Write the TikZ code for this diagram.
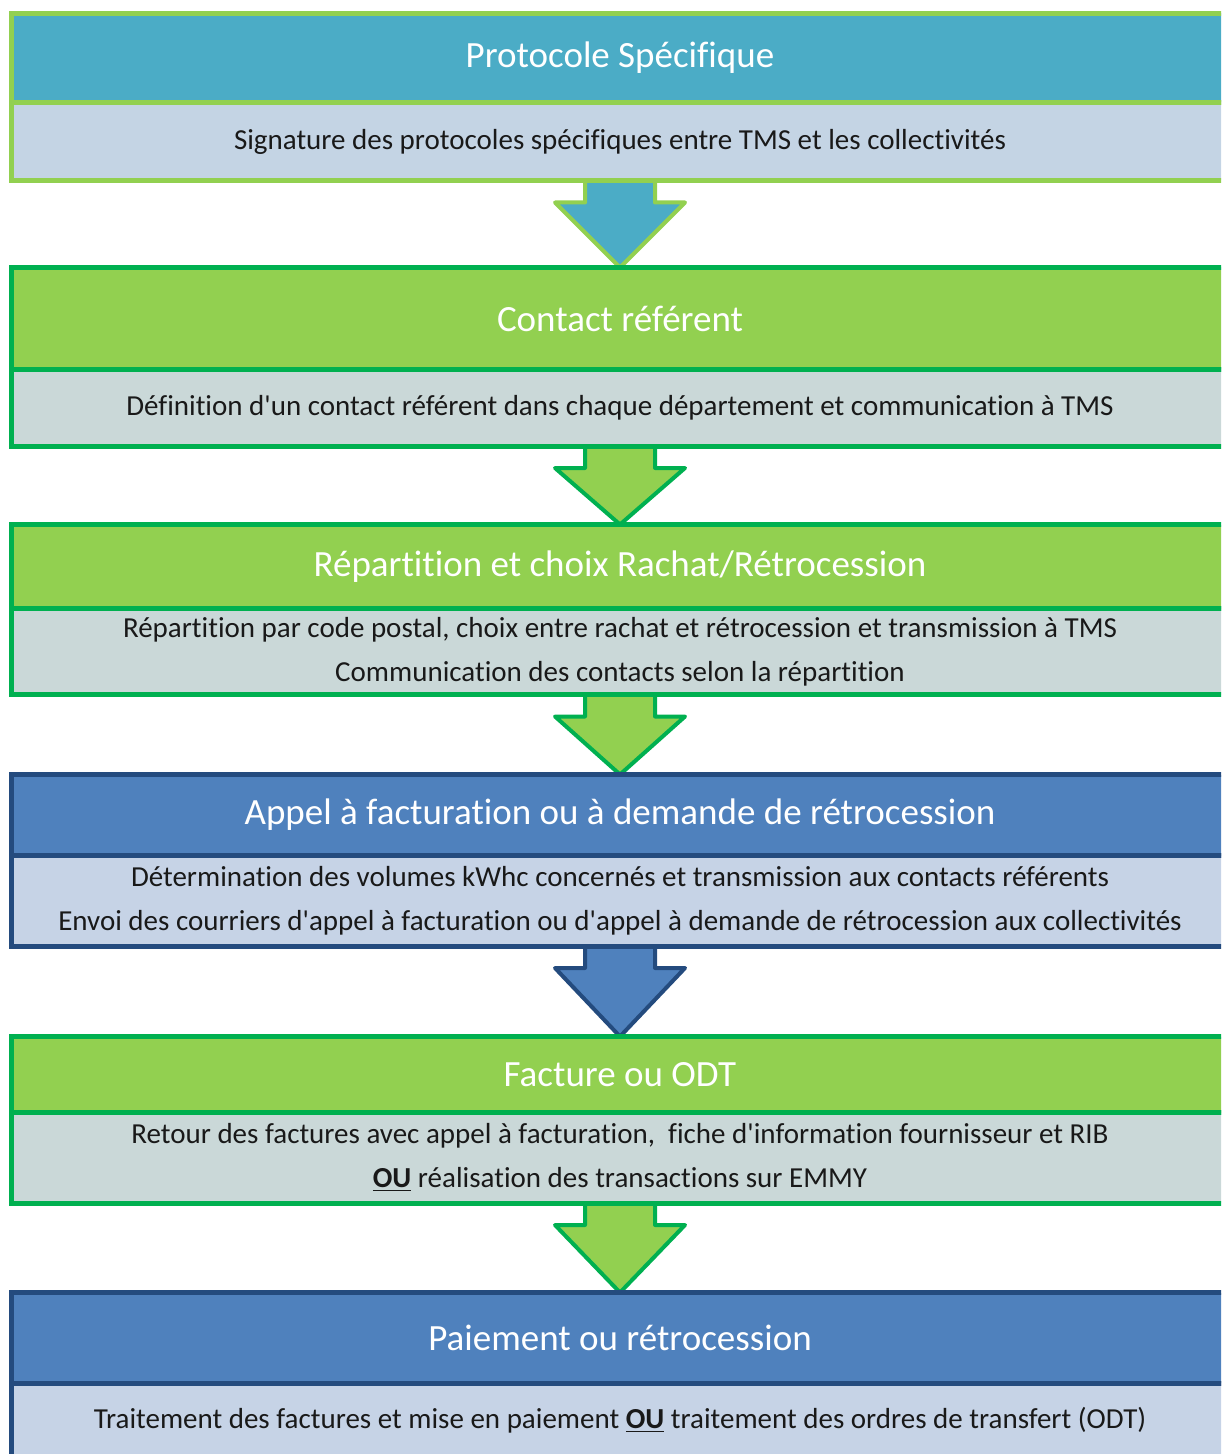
\documentclass[tikz,border=0pt]{standalone}
\usepackage{fontspec}
\setmainfont{Carlito}[RawFeature=-liga]
\usepackage{tikz}
\usetikzlibrary{positioning,calc,backgrounds}
\definecolor{prototeal}{HTML}{4BACC6}
\definecolor{protolime}{HTML}{92D050}
\definecolor{protogreen}{HTML}{00B050}
\definecolor{protoblue}{HTML}{4F81BD}
\definecolor{protonavy}{HTML}{244B7E}
\definecolor{protopale}{HTML}{C4D4E4}
\definecolor{protogrey}{HTML}{CAD8D8}
\definecolor{protosky}{HTML}{C6D3E6}

% straight apostrophe
\newcommand{\ap}{\textquotesingle}

% block arrow from the bottom of one step to the top of the next
\newcommand{\flowarrow}[3][]{%
  \filldraw[#1] ($(#2.south)+(-17.5pt,0)$) -- ++(0,-11pt) -- ++(-15pt,0)
    -- (#3.north) -- ($(#2.south)+(32.5pt,-11pt)$) -- ++(-15pt,0)
    -- ($(#2.south)+(17.5pt,0)$);
}

\begin{document}
\begin{tikzpicture}[
    stage/.style={rectangle, outer sep=0pt, line width=2.5pt, minimum width=608.5pt,
      align=center, inner sep=2pt},
    head/.style={stage, text=white, font=\fontsize{18.5}{22}\selectfont},
    body/.style={stage, text=black!90, font=\fontsize{14.5}{22}\selectfont},
    tealhead/.style={head, fill=prototeal, draw=protolime},
    tealbody/.style={body, fill=protopale, draw=protolime},
    limehead/.style={head, fill=protolime, draw=protogreen},
    limebody/.style={body, fill=protogrey, draw=protogreen},
    bluehead/.style={head, fill=protoblue, draw=protonavy},
    bluebody/.style={body, fill=protosky, draw=protonavy},
    tealarrow/.style={fill=prototeal, draw=protolime, line width=2pt, line join=round},
    limearrow/.style={fill=protolime, draw=protogreen, line width=2pt, line join=round},
    bluearrow/.style={fill=protoblue, draw=protonavy, line width=2pt, line join=round}
]
    \clip (0,0) rectangle (610.5pt,-727pt);
    \useasboundingbox (0,0) rectangle (610.5pt,-727pt);

    % Steps
    \node (h1) [tealhead, minimum height=44.5pt] at (310pt,-29pt) {Protocole Spécifique};
    \node (b1) [tealbody, minimum height=39pt, below=0pt of h1]
      {Signature des protocoles spécifiques entre TMS et les collectivités};

    \node (h2) [limehead, minimum height=51pt, below=43.5pt of b1] {Contact référent};
    \node (b2) [limebody, minimum height=38.25pt, below=0pt of h2]
      {Définition d\ap un contact référent dans chaque département et communication à TMS};

    \node (h3) [limehead, minimum height=42pt, below=39.25pt of b2]
      {Répartition et choix Rachat/Rétrocession};
    \node (b3) [limebody, minimum height=43pt, below=0pt of h3]
      {Répartition par code postal, choix entre rachat et rétrocession et transmission à TMS\\
       Communication des contacts selon la répartition};

    \node (h4) [bluehead, minimum height=40.5pt, below=40pt of b3]
      {Appel à facturation ou à demande de rétrocession};
    \node (b4) [bluebody, minimum height=45.25pt, below=0pt of h4]
      {Détermination des volumes kWhc concernés et transmission aux contacts référents\\
       Envoi des courriers d\ap appel à facturation ou d\ap appel à demande de rétrocession aux collectivités};

    \node (h5) [limehead, minimum height=38pt, below=45.25pt of b4] {Facture ou ODT};
    \node (b5) [limebody, minimum height=45.25pt, below=0pt of h5]
      {Retour des factures avec appel à facturation,~ fiche d\ap information fournisseur et RIB\\
       \underline{\textbf{OU}} réalisation des transactions sur EMMY};

    \node (h6) [bluehead, minimum height=45.25pt, below=44.75pt of b5] {Paiement ou rétrocession};
    \node (b6) [bluebody, minimum height=37.5pt, below=0pt of h6]
      {Traitement des factures et mise en paiement \underline{\textbf{OU}} traitement des ordres de transfert (ODT)};

    % Arrows between steps
    \begin{scope}[on background layer]
      \flowarrow[tealarrow]{b1}{h2}
      \flowarrow[limearrow]{b2}{h3}
      \flowarrow[limearrow]{b3}{h4}
      \flowarrow[bluearrow]{b4}{h5}
      \flowarrow[limearrow]{b5}{h6}
    \end{scope}
\end{tikzpicture}
\end{document}
